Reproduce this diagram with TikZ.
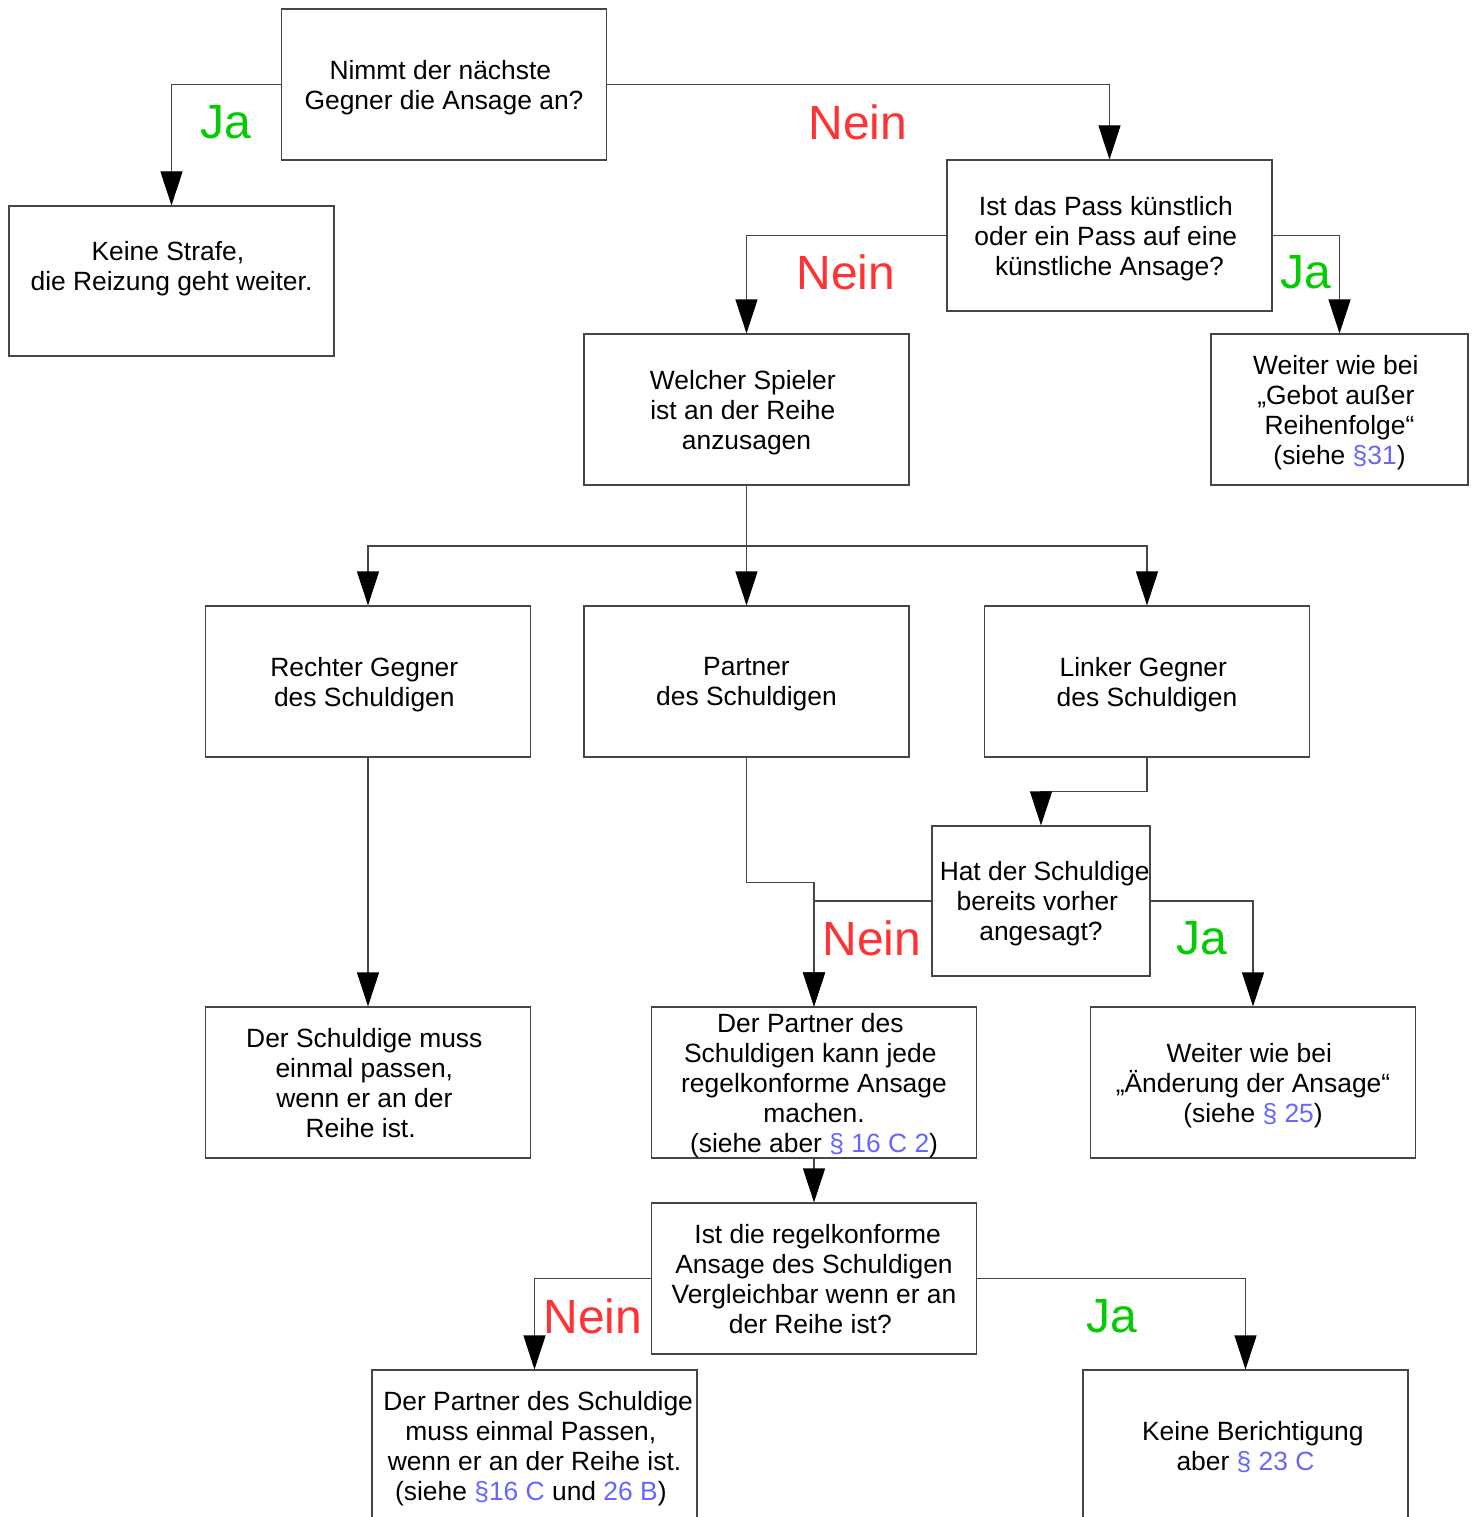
\documentclass[tikz,border=0pt]{standalone}
\usepackage{fontspec}
\setmainfont{Liberation Sans}
\usetikzlibrary{arrows.meta}
\definecolor{jagreen}{RGB}{0,204,0}
\definecolor{neinred}{RGB}{255,51,51}
\definecolor{linkblue}{RGB}{102,102,255}
\definecolor{linegray}{RGB}{70,70,70}
\newcommand{\lnk}[1]{\textcolor{linkblue}{#1}}
\newcommand{\trsp}{\rule{0.278em}{0pt}}
\begin{document}
\begin{tikzpicture}[x=1pt,y=-1pt,
  box/.style={draw=linegray, line width=1.2pt, rectangle, inner sep=0pt, align=center,
    font=\fontsize{26.4}{30}\selectfont, minimum height=151pt, minimum width=325pt,
    text depth=0pt},
  conn/.style={draw=linegray, line width=1.2pt, -{Triangle[length=34pt,width=22pt,black]}},
  ja/.style={text=jagreen, font=\fontsize{48}{52}\selectfont, inner sep=0pt},
  nein/.style={text=neinred, font=\fontsize{48}{52}\selectfont, inner sep=0pt}]
\fill[white] (0,0) rectangle (1475,1517);
\useasboundingbox (0,0) rectangle (1475,1517);

\node[box] (n1) at (444,84.5) {Nimmt der nächste\trsp\\Gegner die Ansage an?};
\node[box, minimum height=150pt] (n2) at (171.5,281) {Keine Strafe,\trsp\\die Reizung geht weiter.\\\mbox{}};
\node[box] (n3) at (1109.5,235.5) {Ist das Pass künstlich\trsp\\oder ein Pass auf eine\trsp\\künstliche Ansage?};
\node[box] (n4) at (746.5,409.5) {Welcher Spieler\trsp\\ist an der Reihe\trsp\\anzusagen};
\node[box, minimum width=257pt] (n5) at (1339.5,409.5) {Weiter wie bei\trsp\\„Gebot außer\trsp\\Reihenfolge“\\(siehe \lnk{§31})};
\node[box] (n6) at (368,681.5) {Rechter Gegner\trsp\\des Schuldigen\trsp};
\node[box] (n7) at (746.5,681.5) {Partner\\des Schuldigen};
\node[box] (n8) at (1147,681.5) {Linker Gegner\trsp\\des Schuldigen};
\node[box, minimum width=218pt, minimum height=150pt] (n9) at (1041,901) {\trsp Hat der Schuldige\\bereits vorher\trsp\\angesagt?};
\node[box] (n10) at (368,1082.5) {Der Schuldige muss\trsp\\einmal passen,\trsp\\wenn er an der\trsp\\Reihe ist.\trsp\trsp};
\node[box] (n11) at (814,1082.5) {Der Partner des\trsp\\Schuldigen kann jede\trsp\\regelkonforme Ansage\\machen.\\(siehe aber \lnk{§ 16 C 2})};
\node[box] (n12) at (1253,1082.5) {Weiter wie bei\trsp\\„Änderung der Ansage“\\(siehe \lnk{§ 25})};
\node[box] (n13) at (814,1278.5) {\trsp Ist die regelkonforme\\Ansage des Schuldigen\\Vergleichbar wenn er an\\der Reihe ist?\trsp};
\node[box] (n14) at (534.5,1445.5) {\trsp Der Partner des Schuldige\\muss einmal Passen,\trsp\\wenn er an der Reihe ist.\\(siehe \lnk{§16 C} und \lnk{26 B})\trsp};
\node[box] (n15) at (1245.5,1445.5) {\trsp\trsp Keine Berichtigung\\aber \lnk{§ 23 C}};

\coordinate (split) at (746.5,546);

\draw[conn] (n1.west) -| (n2.north);
\draw[conn] (n1.east) -| (n3.north);
\draw[conn] (n3.west) -| (n4.north);
\draw[conn] (n3.east) -| (n5.north);
\draw[conn] (n4.south) -- (n7.north);
\draw[conn] (split) -| (n6.north);
\draw[conn] (split) -| (n8.north);
\draw[conn] (n6.south) -- (n10.north);
\draw[conn] (n7.south) -- ++(0,125) -| (n11.north);
\draw[conn] (n8.south) -- ++(0,34) -| (n9.north);
\draw[conn] (n9.west) -| (n11.north);
\draw[conn] (n9.east) -| (n12.north);
\draw[conn] (n11.south) -- (n13.north);
\draw[conn] (n13.west) -| (n14.north);
\draw[conn] (n13.east) -| (n15.north);

\node[ja] (l1) at (226,122) {Ja};
\node[nein] (l2) at (858,122) {Nein};
\node[nein] (l3) at (846,272) {Nein};
\node[ja] (l4) at (1306,272) {Ja};
\node[nein] (l5) at (872,938) {Nein};
\node[ja] (l6) at (1202,938) {Ja};
\node[nein] (l7) at (593,1316) {Nein};
\node[ja] (l8) at (1112,1316) {Ja};
\end{tikzpicture}
\end{document}
